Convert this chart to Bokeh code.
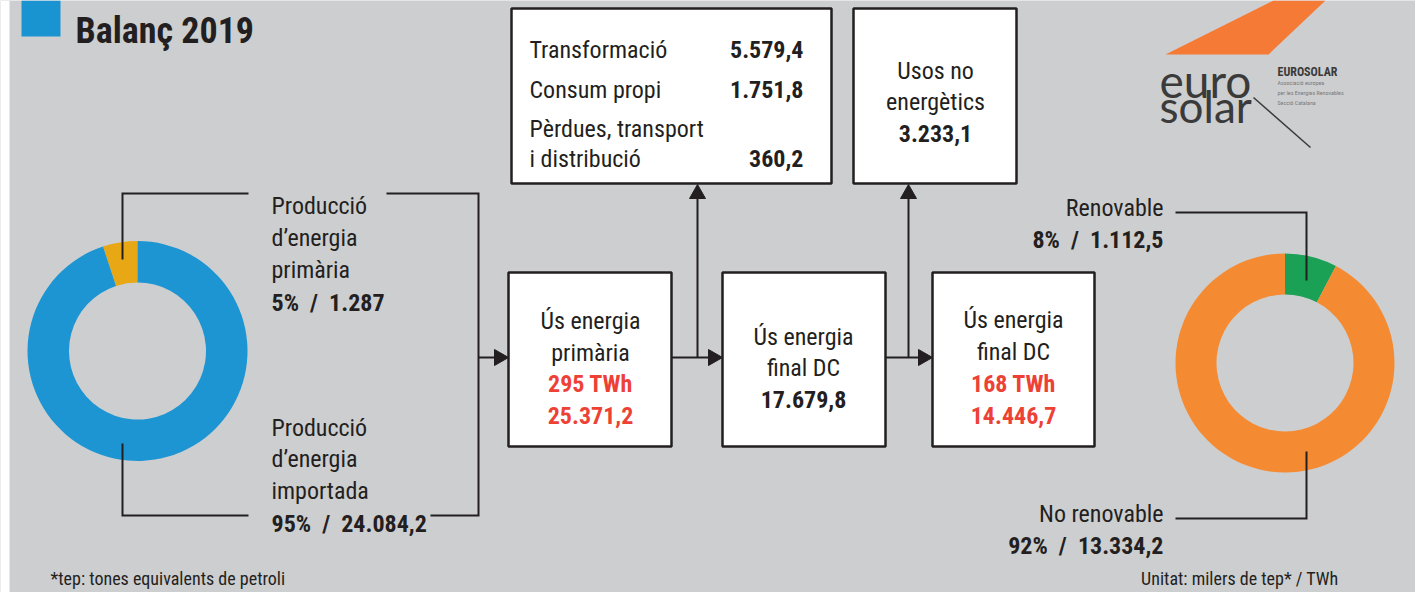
import numpy as np
from bokeh.plotting import figure
from bokeh.models import Range1d
from bokeh.core.properties import value
from bokeh.embed import file_html
from bokeh.resources import INLINE

# ---------------- data ----------------
title = "Balanç 2019"
primary_labels = [["Producció", "d’energia", "primària"], ["Producció", "d’energia", "importada"]]
primary_values = [1287.0, 24084.2]
primary_pct = ["5%", "95%"]
primary_value_txt = ["1.287", "24.084,2"]
primary_colors = ["#e8a714", "#1e95d3"]

final_labels = ["Renovable", "No renovable"]
final_values = [1112.5, 13334.2]
final_pct = ["8%", "92%"]
final_value_txt = ["1.112,5", "13.334,2"]
final_colors = ["#1aa155", "#f48b33"]

losses_labels = ["Transformació", "Consum propi", "Pèrdues, transport", "i distribució"]
losses_values = ["5.579,4", "1.751,8", "", "360,2"]
nonenergy_label = ["Usos no", "energètics"]
nonenergy_value = "3.233,1"

primary_use = ["Ús energia", "primària"]
primary_use_twh = "295 TWh"
primary_use_val = "25.371,2"
final_dc = ["Ús energia", "final DC"]
final_dc_val = "17.679,8"
final_dc2_twh = "168 TWh"
final_dc2_val = "14.446,7"

footnote = "*tep: tones equivalents de petroli"
unit_note = "Unitat: milers de tep* / TWh"

# ---------------- style ----------------
BG = "#cdced0"
INK = "#231f20"
RED = "#ee4136"
FONT = value("Liberation Sans Narrow, Roboto Condensed, DejaVu Sans Condensed, sans-serif")
LOGO_FONT = value("Lato, Roboto, sans-serif")
LW = 2
SEP = "\u00a0\u00a0/\u00a0\u00a0"

W, H = 1415, 592
p = figure(width=W, height=H, output_backend="svg", toolbar_location=None,
           x_range=Range1d(0, W), y_range=Range1d(H, 0),
           min_border=0, background_fill_color=BG, border_fill_color=BG)
p.axis.visible = False
p.grid.visible = False
p.outline_line_color = None

# white page edge at the left
p.quad(left=[0], right=[9], top=[0], bottom=[H], fill_color="white", line_color=None)


def txt(x, y, t, size, bold=False, color=INK, align="left", font=FONT):
    p.text(x=[x], y=[y], text=[t], text_font=font, text_font_size=f"{size}px",
           text_font_style="bold" if bold else "normal", text_color=color,
           text_align=align, text_baseline="alphabetic")


def poly(xs, ys, w=LW):
    p.line(x=xs, y=ys, line_color=INK, line_width=w, line_join="miter")


def head(x, y, direction):
    L, hw = 14, 8
    if direction == "right":
        xs, ys = [x, x - L, x - L], [y, y - hw, y + hw]
    else:  # up
        xs, ys = [x, x - hw, x + hw], [y, y + L, y + L]
    p.patch(x=xs, y=ys, fill_color=INK, line_color=INK, line_width=1)


def box(l, r, t, b):
    p.quad(left=[l], right=[r], top=[t], bottom=[b], fill_color="white",
           line_color=INK, line_width=2.5)


# ---------------- title ----------------
p.quad(left=[21], right=[60], top=[0], bottom=[36], fill_color="#1a93d1", line_color=None)
txt(75, 30, title, 36, bold=True)

# ---------------- left donut ----------------
tot = sum(primary_values)
fr = np.cumsum([0] + [v / tot for v in primary_values])
starts = np.pi / 2 + 2 * np.pi * fr[:-1]
ends = np.pi / 2 + 2 * np.pi * fr[1:]
p.annular_wedge(x=[137] * 2, y=[350.5] * 2, inner_radius=68.5, outer_radius=110,
                inner_radius_units="screen", outer_radius_units="screen",
                start_angle=list(starts), end_angle=list(ends), direction="anticlock",
                fill_color=primary_colors, line_color=None)

# ---------------- right donut ----------------
tot2 = sum(final_values)
fr2 = np.cumsum([0] + [v / tot2 for v in final_values])
ends2 = np.pi / 2 - 2 * np.pi * fr2[:-1]
starts2 = np.pi / 2 - 2 * np.pi * fr2[1:]
p.annular_wedge(x=[1284.5] * 2, y=[362.5] * 2, inner_radius=68.5, outer_radius=109.5,
                inner_radius_units="screen", outer_radius_units="screen",
                start_angle=list(starts2), end_angle=list(ends2), direction="anticlock",
                fill_color=final_colors, line_color=None)

# ---------------- left labels & leaders ----------------
for i, yl in enumerate([205, 237, 269]):
    txt(271, yl, primary_labels[0][i], 24)
txt(271, 302, f"{primary_pct[0]}{SEP}{primary_value_txt[0]}", 24, bold=True)
for i, yl in enumerate([427, 458, 490]):
    txt(271, yl, primary_labels[1][i], 24)
txt(271, 523, f"{primary_pct[1]}{SEP}{primary_value_txt[1]}", 24, bold=True)

poly([122, 122, 248], [259, 193, 193])
poly([386, 478, 478, 430], [193, 193, 515, 515])
poly([122, 122, 248], [443, 515, 515])

# ---------------- flow arrows ----------------
poly([478, 500], [357, 357]); head(508, 357, "right")
poly([671, 714], [357, 357]); head(722, 357, "right")
poly([697, 697], [357, 192]); head(697, 184, "up")
poly([885, 924], [357, 357]); head(932, 357, "right")
poly([908, 908], [357, 192]); head(908, 184, "up")

# ---------------- boxes ----------------
box(511, 831, 8, 183)
box(853, 1016, 8, 183)
box(508, 671, 272, 446)
box(722, 885, 272, 446)
box(932, 1094, 272, 446)

# top box 1
for lab, val, yl in zip(losses_labels, losses_values, [49, 89, 128, 158]):
    txt(529, yl, lab, 24)
    if val:
        txt(803, yl, val, 24, bold=True, align="right")
# top box 2
txt(935, 70, nonenergy_label[0], 24, align="center")
txt(935, 101, nonenergy_label[1], 24, align="center")
txt(935, 133, nonenergy_value, 24, bold=True, align="center")

# primary use box
txt(590, 320, primary_use[0], 24, align="center")
txt(590, 352, primary_use[1], 24, align="center")
txt(590, 383, primary_use_twh, 24, bold=True, color=RED, align="center")
txt(590, 415, primary_use_val, 24, bold=True, color=RED, align="center")
# final DC box
txt(803, 336, final_dc[0], 24, align="center")
txt(803, 367, final_dc[1], 24, align="center")
txt(803, 399, final_dc_val, 24, bold=True, align="center")
# final DC 2 box
txt(1013, 319, final_dc[0], 24, align="center")
txt(1013, 351, final_dc[1], 24, align="center")
txt(1013, 383, final_dc2_twh, 24, bold=True, color=RED, align="center")
txt(1013, 415, final_dc2_val, 24, bold=True, color=RED, align="center")

# ---------------- right labels & leaders ----------------
txt(1163, 207, final_labels[0], 24, align="right")
txt(1163, 239, f"{final_pct[0]}{SEP}{final_value_txt[0]}", 24, bold=True, align="right")
txt(1163, 513, final_labels[1], 24, align="right")
txt(1163, 545, f"{final_pct[1]}{SEP}{final_value_txt[1]}", 24, bold=True, align="right")
poly([1175, 1306, 1306], [212, 212, 280])
poly([1306, 1306, 1175], [451, 518, 518])

# ---------------- notes ----------------
txt(50, 578, footnote, 18)
txt(1338, 578, unit_note, 18, align="right")

# ---------------- logo ----------------
p.patch(x=[1165, 1268, 1325, 1273], y=[54, 54, 0, 0], fill_color="#f47a36", line_color=None)
p.line(x=[1253, 1310], y=[97, 147], line_color="#3a3a3a", line_width=1.5)
txt(1159, 80, "euro", 46, color="#3a3a3a", font=LOGO_FONT)
txt(1159, 105, "solar", 44, color="#3a3a3a", font=LOGO_FONT)
txt(1277, 71, "EUROSOLAR", 12, bold=True, color="#3a3a3a")
txt(1277, 82, "Associació europea", 6, color="#7a7a7a")
txt(1277, 92, "per les Energies Renovables", 6, color="#7a7a7a")
txt(1277, 102, "Secció Catalana", 6, color="#7a7a7a")

open("out.html", "w").write(file_html(p, INLINE))
